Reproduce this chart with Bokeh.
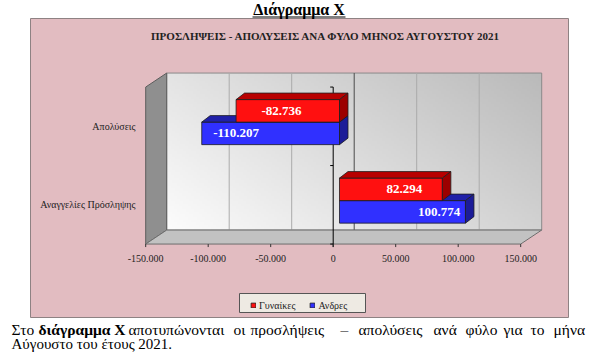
import numpy as np
from bokeh.plotting import figure
from bokeh.models import Range1d, ColumnDataSource, Legend, LegendItem
from bokeh.core.properties import value
from bokeh.embed import file_html
from bokeh.resources import INLINE

# ---------------- data ----------------
categories = ["Αναγγελίες Πρόσληψης", "Απολύσεις"]
women = [82294, -82736]      # Γυναίκες
men = [100774, -110207]      # Ανδρες
series_names = ["Γυναίκες", "Ανδρες"]
x_ticks = [-150000, -100000, -50000, 0, 50000, 100000, 150000]
x_tick_labels = ["-150.000", "-100.000", "-50.000", "0", "50.000", "100.000", "150.000"]
chart_title = "ΠΡΟΣΛΗΨΕΙΣ - ΑΠΟΛΥΣΕΙΣ ΑΝΑ ΦΥΛΟ ΜΗΝΟΣ  ΑΥΓΟΥΣΤΟΥ  2021"
page_title = "Διάγραμμα Χ"
para_line1 = ["Στο", "διάγραμμα Χ", "αποτυπώνονται", "οι", "προσλήψεις", "–",
              "απολύσεις", "ανά", "φύλο", "για", "το", "μήνα"]
para_line2 = "Αύγουστο του έτους 2021."

# ---------------- layout / style ----------------
W, H = 600, 357
X0PX, KX = 332.7, 0.00125      # px of value 0 on the front plane, px per unit
Y0PX, KY = 204.3, 78.5         # px of category 0 on the front plane, px per category


def X(px):
    return (px - X0PX) / KX


def Y(py):
    return (Y0PX - py) / KY


FONT_NAME = "'Liberation Serif', 'DejaVu Serif', serif"
FONT = value(FONT_NAME)
PINK = "#E2BCC1"
RED, RED_TOP, RED_SIDE = "#FF1010", "#B80000", "#9C0000"
BLUE, BLUE_TOP, BLUE_SIDE = "#3030FF", "#2020A8", "#1C1C98"

DX, DY = 21 / KX, 14 / KY          # full depth of the 3D box
BX0, BY0 = 0.3 * DX, 0.3 * DY      # bar front-face offset
BDX, BDY = 8.5 / KX, 6.5 / KY      # bar depth
HB = 0.287                          # bar height (category units)
label_frac = [[0.63, 0.56], [0.79, 0.75]]   # data-label anchor (fraction of bar length)
# word start positions (px) for the justified first paragraph line, and bold flags
para_x = [11, 38, 128, 233, 250, 340, 358, 433, 465, 503, 530, 553]
para_bold = [False, True] + [False] * 10

p = figure(width=W, height=H, output_backend="svg", toolbar_location=None,
           x_axis_location=None, y_axis_location=None,
           x_range=Range1d(X(0), X(W)), y_range=Range1d(Y(H), Y(0)),
           min_border=0, outline_line_color=None,
           background_fill_color="white", border_fill_color="white")
for g in p.grid:
    g.visible = False

# pink chart area
p.quad(left=[X(30)], right=[X(568)], top=[Y(18)], bottom=[Y(317)],
       fill_color=PINK, line_color="#8E8283", line_width=1)

# back wall with gradient
xmin, xmax = x_ticks[0], x_ticks[-1]
ylo, yhi = -0.5, len(categories) - 0.5
ny, nx = 60, 240
u = np.linspace(0, 1, nx)[None, :]
v = np.linspace(0, 1, ny)[:, None]
gval = np.clip(252 - 42 * u - 24 * v, 0, 255).astype(np.uint8)
img = np.empty((ny, nx), dtype=np.uint32)
view = img.view(dtype=np.uint8).reshape((ny, nx, 4))
view[:, :, 0] = gval
view[:, :, 1] = gval
view[:, :, 2] = gval
view[:, :, 3] = 255
p.image_rgba(image=[img], x=xmin + DX, y=ylo + DY, dw=xmax - xmin, dh=yhi - ylo)
p.quad(left=[xmin + DX], right=[xmax + DX], bottom=[ylo + DY], top=[yhi + DY],
       fill_color=None, line_color="#8A8A8A", line_width=1)

# gridlines on back wall
for t in x_ticks[1:-1]:
    p.segment(x0=[t + DX], y0=[ylo + DY], x1=[t + DX], y1=[yhi + DY],
              line_color="#4A4A4A" if t == 0 else "#ABABAB", line_width=1)

# left wall
p.patch(x=[xmin, xmin, xmin + DX, xmin + DX], y=[ylo, yhi, yhi + DY, ylo + DY],
        fill_color="#8F8F8F", line_color="#5E5E5E", line_width=1)
# floor
p.patch(x=[xmin, xmax, xmax + DX, xmin + DX], y=[ylo, ylo, ylo + DY, ylo + DY],
        fill_color="#C2C2C2", line_color="#6E6E6E", line_width=1)

# value axis line at 0 with category tick marks
p.segment(x0=[0], y0=[ylo - 3 / KY], x1=[0], y1=[yhi], line_color="black", line_width=1)
cat_bounds = [i - 0.5 for i in range(len(categories) + 1)]
p.segment(x0=[-3 / KX] * len(cat_bounds), y0=cat_bounds, x1=[0] * len(cat_bounds), y1=cat_bounds,
          line_color="black", line_width=1)

# x tick marks + labels
p.segment(x0=x_ticks, y0=[ylo] * len(x_ticks), x1=x_ticks, y1=[ylo - 3 / KY] * len(x_ticks),
          line_color="#333333", line_width=1)
p.text(x=x_ticks, y=[Y(258)] * len(x_ticks), text=x_tick_labels, text_font=FONT,
       text_font_size="10px", text_color="#222222", text_align="center", text_baseline="middle")

# category labels
p.text(x=[X(135)] * len(categories), y=list(range(len(categories))), text=categories,
       text_font=FONT, text_font_size="10px", text_color="#222222",
       text_align="right", text_baseline="middle")


# 3D bars
def bars(vals, lower, front, top, side):
    n = len(vals)
    left = [min(0, v) + BX0 for v in vals]
    right = [max(0, v) + BX0 for v in vals]
    bottom = [i + (0 if not lower else -HB) + BY0 for i in range(n)]
    topy = [b + HB for b in bottom]
    src = ColumnDataSource(dict(left=left, right=right, bottom=bottom, top=topy))
    r = p.quad(left="left", right="right", bottom="bottom", top="top", source=src,
               fill_color=front, line_color="#202020", line_width=0.8)
    p.patches(xs=[[l, rr, rr + BDX, l + BDX] for l, rr in zip(left, right)],
              ys=[[t, t, t + BDY, t + BDY] for t in topy],
              fill_color=top, line_color="#202020", line_width=0.8)
    p.patches(xs=[[rr, rr, rr + BDX, rr + BDX] for rr in right],
              ys=[[b, t, t + BDY, b + BDY] for b, t in zip(bottom, topy)],
              fill_color=side, line_color="#202020", line_width=0.8)
    return r


r_men = bars(men, True, BLUE, BLUE_TOP, BLUE_SIDE)
r_women = bars(women, False, RED, RED_TOP, RED_SIDE)


def fmt(v):
    return f"{v:,}".replace(",", ".")


for vals, lower, frac_i in ((women, False, 0), (men, True, 1)):
    xs = [v * label_frac[frac_i][i] + BX0 for i, v in enumerate(vals)]
    ys = [i + (HB / 2 if not lower else -HB / 2) + BY0 for i in range(len(vals))]
    p.text(x=xs, y=ys, text=[fmt(v) for v in vals], text_font=FONT, text_font_size="13px",
           text_font_style="bold", text_color="white", text_align="center", text_baseline="middle")

# legend
p.quad(left=[X(239)], right=[X(365)], top=[Y(293)], bottom=[Y(312)],
       fill_color="#EEEAE3", line_color="#555555", line_width=1)
legend = Legend(items=[LegendItem(label=series_names[0], renderers=[r_women]),
                       LegendItem(label=series_names[1], renderers=[r_men])],
                location=(250, H - 311), orientation="horizontal",
                background_fill_alpha=0, border_line_color=None,
                glyph_width=6, glyph_height=6, label_height=12, label_standoff=3,
                spacing=14, padding=3, margin=0,
                label_text_font=FONT_NAME, label_text_font_size="10px", label_text_color="#222222")
p.add_layout(legend)

# titles
p.text(x=[X(298.5)], y=[Y(9)], text=[page_title], text_font=FONT, text_font_size="16px",
       text_font_style="bold", text_color="black", text_align="center", text_baseline="middle")
p.segment(x0=[X(252)], y0=[Y(16.5)], x1=[X(345)], y1=[Y(16.5)], line_color="black", line_width=1)
p.text(x=[X(328.5)], y=[Y(35)], text=[chart_title], text_font=FONT, text_font_size="11px",
       text_font_style="bold", text_color="#222222", text_align="center", text_baseline="middle")

# paragraph (first line justified word by word)
p.text(x=[X(px) for px in para_x], y=[Y(329)] * len(para_line1), text=para_line1,
       text_font=FONT, text_font_size="15.5px",
       text_font_style=["bold" if b else "normal" for b in para_bold],
       text_color="black", text_align="left", text_baseline="middle")
p.text(x=[X(11)], y=[Y(343)], text=[para_line2], text_font=FONT, text_font_size="15px",
       text_color="black", text_align="left", text_baseline="middle")

open("out.html", "w").write(file_html(p, INLINE))
